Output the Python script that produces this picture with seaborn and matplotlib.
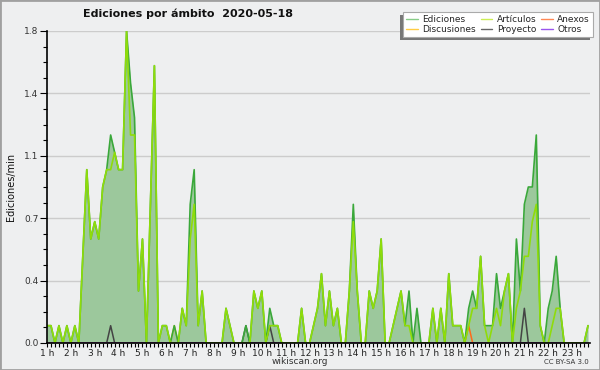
import numpy as np
import pandas as pd
import matplotlib
matplotlib.use("Agg")
import matplotlib.pyplot as plt
import seaborn as sns
from matplotlib.lines import Line2D
from matplotlib.patches import Rectangle
from matplotlib.transforms import IdentityTransform

# ---------------- data (edits per minute, 10-minute bins from 1 h) ----------------
ediciones = [
    0.1, 0.1, 0, 0.1, 0, 0.1, 0, 0.1, 0, 0.5, 1.0, 0.6,
    0.7, 0.6, 0.9, 1.0, 1.2, 1.1, 1.0, 1.0, 1.8, 1.5, 1.3, 0.3,
    0.6, 0, 0.8, 1.6, 0, 0.1, 0.1, 0, 0.1, 0, 0.2, 0.1,
    0.8, 1.0, 0.1, 0.3, 0, 0, 0, 0, 0, 0.2, 0.1, 0,
    0, 0, 0.1, 0, 0.3, 0.2, 0.3, 0, 0.2, 0.1, 0.1, 0,
    0, 0, 0, 0, 0.2, 0, 0, 0.1, 0.2, 0.4, 0.1, 0.3,
    0.1, 0.2, 0, 0, 0.3, 0.8, 0.3, 0, 0, 0.3, 0.2, 0.3,
    0.6, 0, 0, 0.1, 0.2, 0.3, 0.1, 0.3, 0, 0.2, 0, 0,
    0, 0.2, 0, 0.2, 0, 0.4, 0.1, 0.1, 0.1, 0, 0.2, 0.3,
    0.2, 0.5, 0.1, 0.1, 0.1, 0.4, 0.2, 0.3, 0.4, 0, 0.6, 0.3,
    0.8, 0.9, 0.9, 1.2, 0.1, 0, 0.2, 0.3, 0.5, 0.2, 0, 0,
    0, 0, 0, 0, 0.1,
]
articulos = [
    0.1, 0.1, 0, 0.1, 0, 0.1, 0, 0.1, 0, 0.5, 1.0, 0.6,
    0.7, 0.6, 0.9, 1.0, 1.0, 1.1, 1.0, 1.0, 1.8, 1.2, 1.2, 0.3,
    0.6, 0, 0.8, 1.6, 0, 0.1, 0.1, 0, 0, 0, 0.2, 0.1,
    0.6, 0.8, 0.1, 0.3, 0, 0, 0, 0, 0, 0.2, 0.1, 0,
    0, 0, 0, 0, 0.3, 0.2, 0.3, 0, 0.1, 0.1, 0.1, 0,
    0, 0, 0, 0, 0.2, 0, 0, 0.1, 0.2, 0.4, 0.1, 0.3,
    0.1, 0.2, 0, 0, 0.3, 0.7, 0.3, 0, 0, 0.3, 0.2, 0.3,
    0.6, 0, 0, 0.1, 0.2, 0.3, 0.1, 0.1, 0, 0, 0, 0,
    0, 0.2, 0, 0.2, 0, 0.4, 0.1, 0.1, 0.1, 0, 0.1, 0.2,
    0.2, 0.5, 0.1, 0, 0.1, 0.2, 0.1, 0.3, 0.4, 0, 0.2, 0.3,
    0.5, 0.5, 0.7, 0.8, 0.1, 0, 0, 0.1, 0.2, 0.2, 0, 0,
    0, 0, 0, 0, 0.1,
]
# sparse series: bin index -> value
anexos_idx = [106]
anexos_val = [0.1]
discusiones_idx = [32]
discusiones_val = [0.1]
proyecto_idx = [16, 50, 56, 120]
proyecto_val = [0.1, 0.1, 0.1, 0.2]
otros_idx = []
otros_val = []

hour_labels = [f"{h} h" for h in range(1, 24)]
ytick_labels = ["0.0", "0.4", "0.7", "1.1", "1.4", "1.8"]
series_names = ["Ediciones", "Discusiones", "Artículos", "Proyecto", "Anexos", "Otros"]

n = len(ediciones)
x = np.arange(n)


def sparse(idx, val):
    s = np.zeros(n)
    for i, v in zip(idx, val):
        s[i] = v
    return s


df = pd.DataFrame({
    "x": x,
    "Ediciones": ediciones,
    "Artículos": articulos,
    "Anexos": sparse(anexos_idx, anexos_val),
    "Discusiones": sparse(discusiones_idx, discusiones_val),
    "Proyecto": sparse(proyecto_idx, proyecto_val),
    "Otros": sparse(otros_idx, otros_val),
})

# ---------------- style ----------------
sns.set_theme(style="white")
plt.rcParams["font.family"] = ["DejaVu Sans"]
BG = "#eeeff0"
plot_colors = {
    "Ediciones": "#3aa83a",
    "Artículos": "#8fdc0a",
    "Anexos": "#ff6a1a",
    "Discusiones": "#f2c200",
    "Proyecto": "#444444",
    "Otros": "#9933ee",
}
legend_colors = {
    "Ediciones": "#88cc88",
    "Artículos": "#ccee55",
    "Anexos": "#ff8855",
    "Discusiones": "#ffcc44",
    "Proyecto": "#666666",
    "Otros": "#9955ee",
}

fig = plt.figure(figsize=(6, 3.7), dpi=100, facecolor=BG)
ax = fig.add_axes([47 / 600, 27 / 370, 543 / 600, 312 / 370])
ax.set_facecolor(BG)

# fill under total
ax.fill_between(df["x"], 0, df["Ediciones"], color="#9cc89c", lw=0, zorder=1)
for name in ["Proyecto", "Anexos", "Discusiones", "Otros"]:
    sns.lineplot(data=df, x="x", y=name, ax=ax, color=plot_colors[name], lw=1.1, zorder=2, legend=False)
sns.lineplot(data=df, x="x", y="Ediciones", ax=ax, color=plot_colors["Ediciones"], lw=1.2, zorder=3, legend=False)
sns.lineplot(data=df, x="x", y="Artículos", ax=ax, color=plot_colors["Artículos"], lw=1.2, zorder=4, legend=False)

# axes
ax.set_xlim(0, 136.5)
ax.set_ylim(0, 1.8)
yt = np.linspace(0, 1.8, 6)
ax.set_yticks(yt)
ax.set_yticklabels(ytick_labels)
ax.set_yticks(np.arange(0, 1.8001, 0.09), minor=True)
ax.set_xticks(np.arange(0, 23) * 6)
ax.set_xticklabels(hour_labels)
ax.set_xticks(np.arange(0, 137), minor=True)
ax.grid(axis="y", which="major", color="#cccccc", lw=1)
ax.grid(axis="x", visible=False)
ax.set_axisbelow(True)
for s in ["top", "right"]:
    ax.spines[s].set_visible(False)
for s in ["left", "bottom"]:
    ax.spines[s].set_color("black")
    ax.spines[s].set_linewidth(1.2)
    ax.spines[s].set_zorder(6)
ax.tick_params(axis="y", which="major", direction="out", length=5, width=0.8, color="black",
               labelsize=6.5, labelcolor="#333333", pad=1, left=True)
ax.tick_params(axis="y", which="minor", direction="out", length=3, width=0.8, color="black", left=True)
ax.tick_params(axis="x", which="both", direction="out", length=3, width=0.8, color="black",
               labelsize=6.5, labelcolor="#222222", pad=1, bottom=True)
ax.set_xlabel("")
ax.set_ylabel("Ediciones/min", fontsize=7, color="#111111")
ax.yaxis.set_label_coords(-0.057, 0.5)

# title and credits
fig.text(188 / 600, 1 - 14 / 370, "Ediciones por ámbito  2020-05-18", ha="center", va="center",
         fontsize=8, fontweight="bold", color="#111111")
fig.text(300 / 600, 1 - 361 / 370, "wikiscan.org", ha="center", va="center", fontsize=6.5, color="#333333")
fig.text(589 / 600, 1 - 362 / 370, "CC BY-SA 3.0", ha="right", va="center", fontsize=5, color="#333333")

# legend
handles = [Line2D([0], [0], color=legend_colors[nm], lw=1) for nm in series_names]
leg = fig.legend(handles, series_names, ncol=3, loc="upper right",
                 bbox_to_anchor=(593 / 600, 1 - 12 / 370), frameon=True, fancybox=False,
                 edgecolor="#aaaaaa", facecolor="white", framealpha=1, fontsize=6.5,
                 handlelength=1.3, handletextpad=0.5, columnspacing=0.5, labelspacing=0.1,
                 borderpad=0.35, borderaxespad=0)
leg.get_frame().set_linewidth(0.8)
leg.set_zorder(10)
fig.canvas.draw()
bb = leg.get_frame().get_window_extent()
fig.add_artist(Rectangle((bb.x0 - 3, bb.y0 - 3), bb.width, bb.height, transform=IdentityTransform(),
                         facecolor="#777777", edgecolor="none", zorder=9))

# outer border
fig.add_artist(Rectangle((0, 0), 1, 1, transform=fig.transFigure, fill=False,
                         edgecolor="#a0a0a0", lw=2, zorder=20))

fig.savefig("out.png", dpi=100, facecolor=BG)
